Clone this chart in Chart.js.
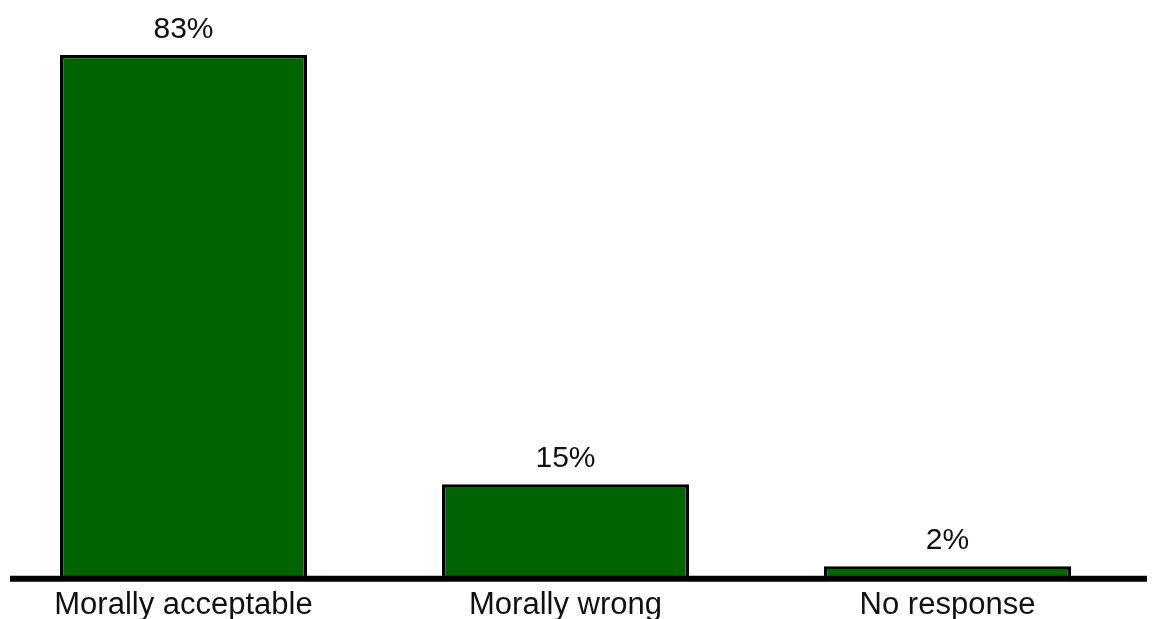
<!DOCTYPE html>
<html>
<head>
<meta charset="utf-8">
<script src="https://cdn.jsdelivr.net/npm/chart.js@4"></script>
<style>
  html, body { margin: 0; padding: 0; background: #ffffff; }
  #wrap { width: 1160px; height: 619px; position: relative; }
</style>
</head>
<body>
<div id="wrap"><canvas id="chart" width="1160" height="619"></canvas></div>
<script>
const categories = ["Morally acceptable", "Morally wrong", "No response"];
const percentages = [83, 15, 2];
const valueLabels = ["83%", "15%", "2%"];

// Percent labels above each bar
const barValueLabels = {
  id: 'barValueLabels',
  afterDatasetsDraw(chart) {
    const ctx = chart.ctx;
    const meta = chart.getDatasetMeta(0);
    ctx.save();
    ctx.font = '30px "Liberation Sans", Arial, sans-serif';
    ctx.fillStyle = '#111';
    ctx.textAlign = 'center';
    ctx.textBaseline = 'alphabetic';
    meta.data.forEach((bar, i) => {
      ctx.fillText(valueLabels[i], bar.x, bar.y - 17);
    });
    ctx.restore();
  }
};

// Heavy baseline running under all the bars
const baseline = {
  id: 'baseline',
  afterDatasetsDraw(chart) {
    const ctx = chart.ctx;
    const y = chart.scales.y.getPixelForValue(0);
    ctx.save();
    ctx.strokeStyle = '#000';
    ctx.lineWidth = 6;
    ctx.beginPath();
    ctx.moveTo(10, y);
    ctx.lineTo(1147, y);
    ctx.stroke();
    ctx.restore();
  }
};

new Chart(document.getElementById('chart'), {
  type: 'bar',
  data: {
    labels: categories,
    datasets: [{
      data: percentages,
      backgroundColor: '#006400',
      borderColor: '#000',
      borderWidth: 3.5,
      barPercentage: 1,
      categoryPercentage: 0.647,
      clip: false
    }]
  },
  options: {
    responsive: false,
    animation: false,
    layout: { padding: { left: 183.5, right: 212.5, top: 55, bottom: -5 } },
    plugins: { legend: { display: false }, tooltip: { enabled: false } },
    scales: {
      x: {
        offset: false,
        grid: { display: false },
        border: { display: false },
        ticks: {
          color: '#111',
          padding: 0,
          maxRotation: 0,
          autoSkip: false,
          font: { family: '"Liberation Sans", Arial, sans-serif', size: 31 }
        }
      },
      y: {
        display: false,
        min: 0,
        max: 83
      }
    }
  },
  plugins: [barValueLabels, baseline]
});
</script>
</body>
</html>
